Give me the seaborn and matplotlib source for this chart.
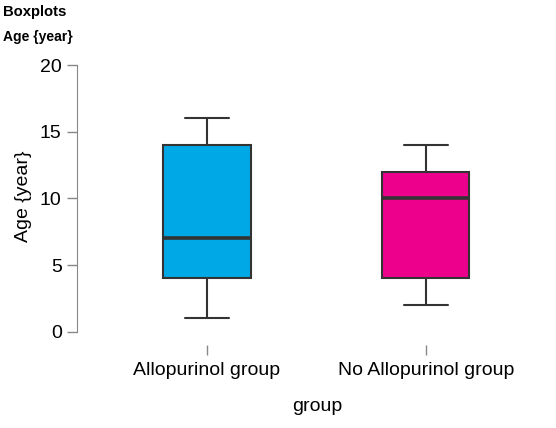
import pandas as pd
import matplotlib
matplotlib.use("Agg")
import matplotlib.pyplot as plt
import seaborn as sns

# values (min, q1, median, q3, max)
allopurinol = [1, 4, 4, 7, 14, 14, 16]
no_allopurinol = [2, 4, 4, 10, 12, 12, 14]
groups = ["Allopurinol group", "No Allopurinol group"]
colors = ["#00A8E6", "#EC008C"]

df = pd.DataFrame({
    "group": [groups[0]] * len(allopurinol) + [groups[1]] * len(no_allopurinol),
    "age": allopurinol + no_allopurinol,
})

sns.set_style("white")
plt.rcParams["font.family"] = ["Liberation Sans", "DejaVu Sans"]
plt.rcParams["text.color"] = "black"
plt.rcParams["axes.labelcolor"] = "black"

fig = plt.figure(figsize=(5.56, 4.28), dpi=100)
ax = fig.add_axes([77 / 556, 83 / 428, 480 / 556, 280 / 428])

sns.boxplot(data=df, x="group", y="age", hue="group", palette=colors,
            order=groups, hue_order=groups, legend=False, saturation=1,
            width=0.4, linewidth=1.5, linecolor="#333333",
            medianprops={"linewidth": 2.6}, ax=ax)

ax.set_xlim(-0.594, 1.6)
ax.set_ylim(-1, 20)
ax.set_yticks([0, 5, 10, 15, 20])
sns.despine(ax=ax, bottom=True)
ax.spines["left"].set_bounds(0, 20)
ax.spines["left"].set_color("#888888")
ax.tick_params(axis="both", colors="#888888", labelcolor="black",
               labelsize=14, length=7, width=1, direction="out")
ax.tick_params(axis="x", bottom=True, pad=5)
ax.tick_params(axis="y", left=True, pad=4)

ax.set_xlabel("group", fontsize=14, labelpad=14)
ax.set_ylabel("Age {year}", fontsize=14, labelpad=6)
ax.yaxis.label.set_y(0.53)

fig.text(3 / 556, 1 - 12 / 428, "Boxplots", fontsize=10.7, fontweight="bold", va="center")
fig.text(3 / 556, 1 - 37 / 428, "Age {year}", fontsize=10, fontweight="bold", va="center")

fig.savefig("out.png", dpi=100)
